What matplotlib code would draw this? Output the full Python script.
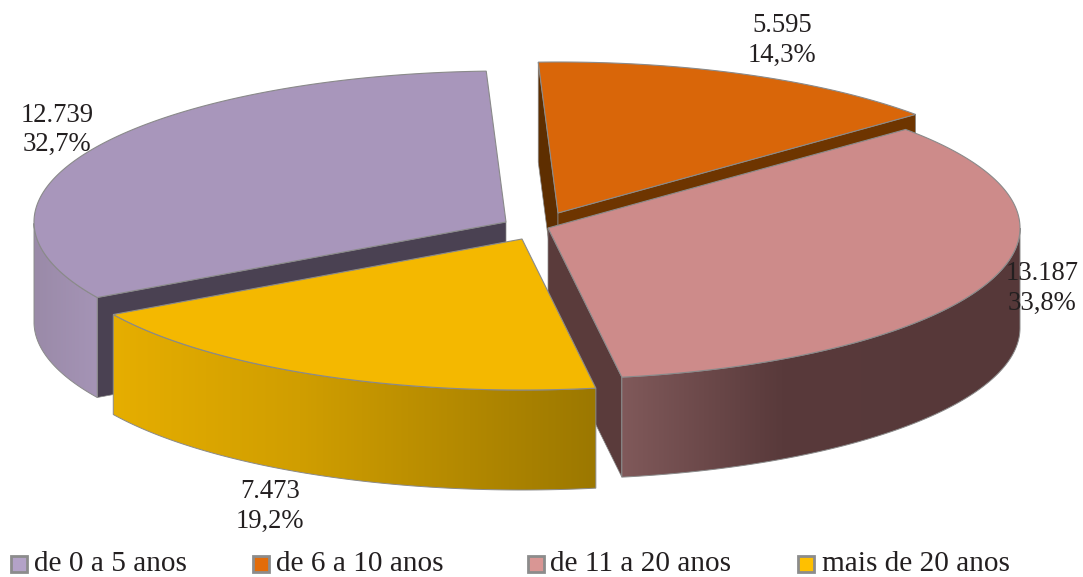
import numpy as np
import matplotlib
matplotlib.use("Agg")
import matplotlib.pyplot as plt
from matplotlib.patches import Polygon, Rectangle
from matplotlib.colors import to_rgb

# ---- data ----
categories = ["de 0 a 5 anos", "de 6 a 10 anos", "de 11 a 20 anos", "mais de 20 anos"]
values = [12739, 5595, 13187, 7473]

# ---- styles ----
top_colors = ["#a896bb", "#d96609", "#cd8b8a", "#f4b800"]
legend_colors = ["#b3a2c7", "#e36c09", "#d99694", "#ffc000"]
wall_colors = ["#4a4152", "#6e3500", "#5a3b3b", "#9e7a00"]
start_wall_colors = {1: "#5e2e00"}
side_stops = {
    0: [(34, "#9a8aa8"), (97, "#a594b6")],
    2: [(622, "#80595a"), (780, "#593a3b"), (1020, "#563839")],
    3: [(112, "#e6ae00"), (300, "#d09e00"), (595, "#9c7800")],
}
centers = {0: (506, 222), 1: (558, 213), 2: (548, 228), 3: (522, 239)}
A, B, H = 472, 151, 100
START = -2.4 - 360 * values[0] / sum(values)   # the first slice ends where the second starts
EDGE = "#8a8a8a"
FONT = "Liberation Serif"
FS = 19.2
FS_LEG = 21.1
label_pos = {0: (57, 115), 1: (782, 26), 2: (1042, 274), 3: (270, 492)}
LINE = 29
legend_swatch_x = [11, 253, 528, 798]
legend_text_x = [34, 276, 550, 822]
LEGEND_SWATCH_Y, LEGEND_SWATCH_SIZE, LEGEND_BASELINE = 556, 16, 571

fig = plt.figure(figsize=(10.83, 5.77), dpi=100)
ax = fig.add_axes([0, 0, 1, 1])
ax.axis("off")

total = sum(values)
edges = START + np.concatenate([[0], np.cumsum(values)]) * 360 / total


def rim(c, t, dz=0):
    r = np.radians(t)
    return c[0] + A * np.sin(r), c[1] - B * np.cos(r) + dz


def gradient(i, x0, x1):
    xs = [s[0] for s in side_stops[i]]
    cs = np.array([to_rgb(s[1]) for s in side_stops[i]])
    grid = np.linspace(x0, x1, 256)
    return np.dstack([np.interp(grid, xs, cs[:, k]) for k in range(3)])


def faces_front(normal):
    return np.cos(np.radians(normal)) < 0


def draw_slice(i, z):
    c = centers[i]
    t0, t1 = edges[i], edges[i + 1]
    ts = np.linspace(t0, t1, 240)
    # cut faces that look towards the viewer
    for t, col, normal in ((t0, start_wall_colors.get(i, wall_colors[i]), t0 - 90),
                           (t1, wall_colors[i], t1 + 90)):
        if faces_front(normal):
            ax.add_patch(Polygon([c, rim(c, t), rim(c, t, H), (c[0], c[1] + H)], closed=True,
                                 fc=col, ec=EDGE, lw=0.5, zorder=z))
    # outer wall, front half only
    if i in side_stops:
        vis = ts[(np.mod(ts, 360) >= 90) & (np.mod(ts, 360) <= 270)]
        outline = [rim(c, t) for t in vis] + [rim(c, t, H) for t in vis[::-1]]
        xy = np.array(outline)
        x0, x1, y0, y1 = xy[:, 0].min(), xy[:, 0].max(), xy[:, 1].min(), xy[:, 1].max()
        im = ax.imshow(gradient(i, x0, x1), extent=(x0, x1, y1, y0), aspect="auto",
                       interpolation="bilinear", zorder=z + 0.1)
        clip = Polygon(outline, closed=True, fc="none", ec=EDGE, lw=0.7, zorder=z + 0.2)
        ax.add_patch(clip)
        im.set_clip_path(clip)
    # top face
    pts = [c] + [rim(c, t) for t in ts]
    ax.add_patch(Polygon(pts, closed=True, fc=top_colors[i], ec=EDGE, lw=0.8, zorder=z + 0.3))


for z, i in enumerate([1, 0, 2, 3]):
    draw_slice(i, z + 1)

ax.set_xlim(0, 1083)
ax.set_ylim(577, 0)

for i, v in enumerate(values):
    x, y = label_pos[i]
    vtxt = f"{v:,}".replace(",", ".")
    ptxt = f"{100 * v / total:.1f}%".replace(".", ",")
    ax.text(x, y, vtxt, ha="center", va="center", family=FONT, fontsize=FS, color="#231f20", zorder=10)
    ax.text(x, y + LINE, ptxt, ha="center", va="center", family=FONT, fontsize=FS, color="#231f20", zorder=10)

for name, col, sx, tx in zip(categories, legend_colors, legend_swatch_x, legend_text_x):
    ax.add_patch(Rectangle((sx, LEGEND_SWATCH_Y), LEGEND_SWATCH_SIZE, LEGEND_SWATCH_SIZE,
                           fc=col, ec="#8c8c8c", lw=2, zorder=10))
    ax.text(tx, LEGEND_BASELINE, name, ha="left", va="baseline", family=FONT,
            fontsize=FS_LEG, color="#231f20", zorder=10)

fig.savefig("out.png", dpi=100, facecolor="white")
